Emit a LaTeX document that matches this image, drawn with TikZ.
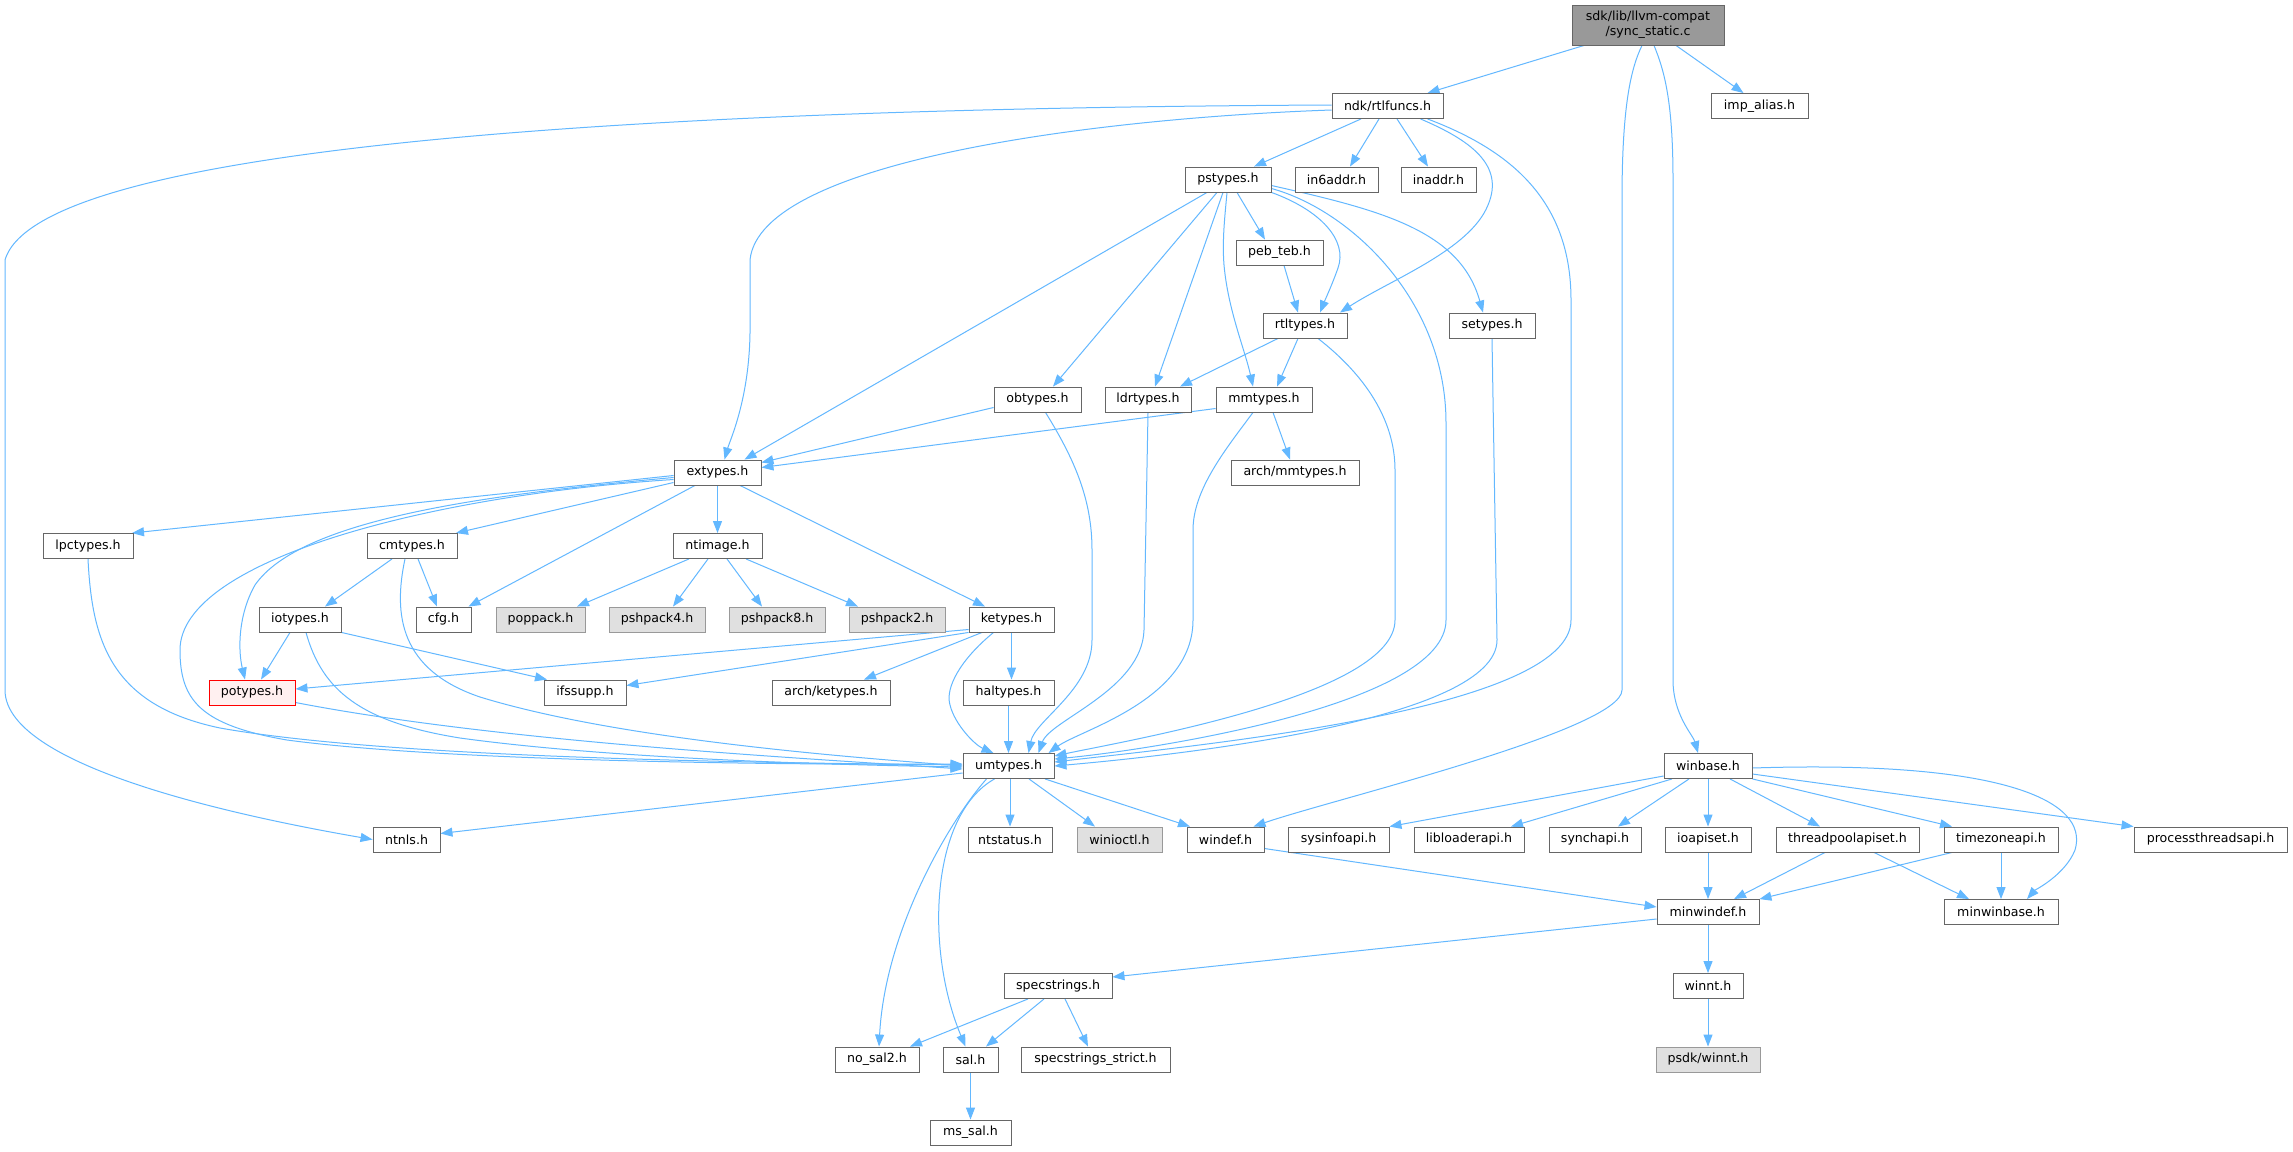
\documentclass[tikz,border=0pt]{standalone}
\usepackage{fontspec}
\setmainfont{DejaVu Sans}
\usetikzlibrary{arrows.meta}
\definecolor{edgec}{HTML}{63B8FF}
\definecolor{bord}{HTML}{666666}
\definecolor{gbord}{HTML}{999999}
\definecolor{gfill}{HTML}{E0E0E0}
\definecolor{rootfill}{HTML}{999999}
\definecolor{redfill}{HTML}{FFF0F0}
\pgfdeclarelayer{background}
\pgfsetlayers{background,main}
\begin{document}
\begin{tikzpicture}[x=1pt,y=-1pt,
 box/.style={draw=bord, fill=white, line width=0.9pt, minimum height=25pt, inner sep=0pt, font=\fontsize{12.6}{15}\selectfont},
 extbox/.style={box, fill=gfill, draw=gbord},
 e/.style={draw=edgec, line width=1pt, -{Triangle[length=12pt,width=9pt]}},
]
\useasboundingbox (0,0) rectangle (2293,1151);

% nodes
\node[box, fill=rootfill, minimum width=152pt, minimum height=40pt, align=center] (root) at (1648,25) {sdk/lib/llvm-compat\\/sync\_static.c};
\node[box, minimum width=111pt] (rtlfuncs) at (1387.5,106) {ndk/rtlfuncs.h};
\node[box, minimum width=97pt] (impalias) at (1759.5,106) {imp\_alias.h};
\node[box, minimum width=86pt] (pstypes) at (1228,179.5) {pstypes.h};
\node[box, minimum width=83pt] (in6addr) at (1336.5,179.5) {in6addr.h};
\node[box, minimum width=75pt] (inaddr) at (1438.5,179.5) {inaddr.h};
\node[box, minimum width=87pt] (pebteb) at (1279.5,252.5) {peb\_teb.h};
\node[box, minimum width=86pt] (setypes) at (1492,325.5) {setypes.h};
\node[box, minimum width=84pt] (rtltypes) at (1305,325.5) {rtltypes.h};
\node[box, minimum width=87pt] (obtypes) at (1037.5,399.5) {obtypes.h};
\node[box, minimum width=86pt] (ldrtypes) at (1148,399.5) {ldrtypes.h};
\node[box, minimum width=96pt] (mmtypes) at (1264,399.5) {mmtypes.h};
\node[box, minimum width=128pt] (archmm) at (1295,472.5) {arch/mmtypes.h};
\node[box, minimum width=87pt] (extypes) at (717.5,472.5) {extypes.h};
\node[box, minimum width=90pt] (lpctypes) at (88,546) {lpctypes.h};
\node[box, minimum width=90pt] (cmtypes) at (412,546) {cmtypes.h};
\node[box, minimum width=89pt] (ntimage) at (717.5,546) {ntimage.h};
\node[box, minimum width=55pt] (cfg) at (443.5,619.5) {cfg.h};
\node[extbox, minimum width=89pt] (poppack) at (540.5,619.5) {poppack.h};
\node[extbox, minimum width=96pt] (pshpack4) at (657,619.5) {pshpack4.h};
\node[extbox, minimum width=96pt] (pshpack8) at (777,619.5) {pshpack8.h};
\node[extbox, minimum width=96pt] (pshpack2) at (897,619.5) {pshpack2.h};
\node[box, minimum width=85pt] (ketypes) at (1011.5,619.5) {ketypes.h};
\node[box, minimum width=82pt] (iotypes) at (300,619.5) {iotypes.h};
\node[box, draw=red, fill=redfill, minimum width=86pt] (potypes) at (252,692.5) {potypes.h};
\node[box, minimum width=82pt] (ifssupp) at (585,692.5) {ifssupp.h};
\node[box, minimum width=118pt] (archke) at (831,692.5) {arch/ketypes.h};
\node[box, minimum width=91pt] (haltypes) at (1008.5,692.5) {haltypes.h};
\node[box, minimum width=91pt] (umtypes) at (1008.5,766) {umtypes.h};
\node[box, minimum width=67pt] (ntnls) at (406.5,839.5) {ntnls.h};
\node[box, minimum width=84pt] (ntstatus) at (1010,839.5) {ntstatus.h};
\node[extbox, minimum width=85pt] (winioctl) at (1119.5,839.5) {winioctl.h};
\node[box, minimum width=77pt] (windef) at (1225.5,839.5) {windef.h};
\node[box, minimum width=101pt] (sysinfoapi) at (1338.5,839.5) {sysinfoapi.h};
\node[box, minimum width=110pt] (libloaderapi) at (1469,839.5) {libloaderapi.h};
\node[box, minimum width=92pt] (synchapi) at (1595,839.5) {synchapi.h};
\node[box, minimum width=86pt] (ioapiset) at (1708,839.5) {ioapiset.h};
\node[box, minimum width=143pt] (threadpool) at (1847.5,839.5) {threadpoolapiset.h};
\node[box, minimum width=114pt] (timezone) at (2001,839.5) {timezoneapi.h};
\node[box, minimum width=153pt] (procthreads) at (2210.5,839.5) {processthreadsapi.h};
\node[box, minimum width=88pt] (winbase) at (1708,766) {winbase.h};
\node[box, minimum width=102pt] (minwindef) at (1708,912) {minwindef.h};
\node[box, minimum width=114pt] (minwinbase) at (2001,912) {minwinbase.h};
\node[box, minimum width=108pt] (specstrings) at (1058,986) {specstrings.h};
\node[box, minimum width=70pt] (winnt) at (1708,986) {winnt.h};
\node[extbox, minimum width=104pt] (psdkwinnt) at (1708,1059.5) {psdk/winnt.h};
\node[box, minimum width=84pt] (nosal2) at (877,1059.5) {no\_sal2.h};
\node[box, minimum width=55pt] (sal) at (970.5,1059.5) {sal.h};
\node[box, minimum width=149pt] (strict) at (1095.5,1059.5) {specstrings\_strict.h};
\node[box, minimum width=81pt] (mssal) at (970.5,1132.5) {ms\_sal.h};

\begin{pgfonlayer}{background}
\fill[white] (0,0) rectangle (2293,1151);
% root edges
\draw[e] ([xshift=-64pt]root.south) -- ([xshift=40pt]rtlfuncs.north);
\draw[e] ([xshift=28pt]root.south) -- ([xshift=-16pt]impalias.north);
\draw[e] ([xshift=-6pt]root.south) .. controls (1630,70) and (1622,110) .. (1622,200) -- (1622,690) .. controls (1622,730) and (1330,800) .. ([xshift=28pt]windef.north);
\draw[e] ([xshift=6pt]root.south) .. controls (1664,70) and (1673,100) .. (1673,180) -- (1673,680) .. controls (1673,715) and (1693,735) .. ([xshift=-10pt]winbase.north);

% rtlfuncs edges
\draw[e] ([xshift=-26.5pt]rtlfuncs.south) -- ([xshift=26pt]pstypes.north);
\draw[e] ([xshift=-8.5pt]rtlfuncs.south) -- ([xshift=13.5pt]in6addr.north);
\draw[e] ([xshift=9.5pt]rtlfuncs.south) -- ([xshift=-10.5pt]inaddr.north);
\draw[e] ([xshift=33pt]rtlfuncs.south) .. controls (1470,140) and (1505,165) .. (1488,205) .. controls (1470,250) and (1390,280) .. ([xshift=35pt]rtltypes.north);
\draw[e] ([xshift=40pt]rtlfuncs.south) .. controls (1510,150) and (1571,200) .. (1571,300) -- (1571,620) .. controls (1571,710) and (1200,745) .. ([yshift=4pt]umtypes.east);
\draw[e] ([yshift=-4pt]rtlfuncs.west) .. controls (1100,118) and (760,160) .. (750,260) -- (750,333) .. controls (749,400) and (730,440) .. ([xshift=7pt]extypes.north);
\draw[e] ([yshift=1pt]rtlfuncs.west) .. controls (700,108) and (40,140) .. (5,260) -- (5,690) .. controls (5,770) and (260,820) .. (ntnls.west);

% pstypes edges
\draw[e] ([xshift=-21pt]pstypes.south) -- ([xshift=27pt]extypes.north);
\draw[e] ([xshift=-11pt]pstypes.south) -- ([xshift=15.5pt]obtypes.north);
\draw[e] ([xshift=-5pt]pstypes.south) -- ([xshift=7pt]ldrtypes.north);
\draw[e] ([xshift=-1pt]pstypes.south) .. controls (1225,215) and (1222,240) .. (1224,265) .. controls (1228,310) and (1245,350) .. ([xshift=-11pt]mmtypes.north);
\draw[e] ([xshift=9pt]pstypes.south) -- ([xshift=-14.5pt]pebteb.north);
\draw[e] (pstypes.south east) .. controls (1320,210) and (1348,240) .. (1338,268) .. controls (1332,285) and (1325,300) .. ([xshift=15pt]rtltypes.north);
\draw[e] ([yshift=-9pt]pstypes.east) .. controls (1350,210) and (1446,300) .. (1446,423) -- (1446,620) .. controls (1446,705) and (1150,750) .. ([yshift=7pt]umtypes.east);
\draw[e] ([yshift=-6pt]pstypes.east) .. controls (1380,210) and (1460,230) .. ([xshift=-9pt]setypes.north);

\draw[e] ([xshift=4.5pt]pebteb.south) -- ([xshift=-7pt]rtltypes.north);
\draw[e] (setypes.south) -- (1497,640) .. controls (1497,720) and (1180,755) .. (umtypes.east);

% rtltypes
\draw[e] ([xshift=-27pt]rtltypes.south) -- ([xshift=32pt]ldrtypes.north);
\draw[e] ([xshift=-7pt]rtltypes.south) -- ([xshift=13pt]mmtypes.north);
\draw[e] ([xshift=13pt]rtltypes.south) .. controls (1365,375) and (1395,420) .. (1395,470) -- (1395,620) .. controls (1395,695) and (1130,740) .. ([yshift=10pt]umtypes.east);

% obtypes, ldrtypes, mmtypes
\draw[e] ([yshift=-8pt]obtypes.west) -- ([yshift=10pt]extypes.east);
\draw[e] ([xshift=8pt]obtypes.south) .. controls (1075,460) and (1092,500) .. (1092,550) -- (1092,640) .. controls (1092,690) and (1035,720) .. ([xshift=20pt]umtypes.north);
\draw[e] (ldrtypes.south) -- (1144,630) .. controls (1142,690) and (1050,720) .. ([xshift=30pt]umtypes.north);
\draw[e] ([yshift=-9pt]mmtypes.west) -- ([yshift=5pt]extypes.east);
\draw[e] ([xshift=9pt]mmtypes.south) -- ([xshift=-5pt]archmm.north);
\draw[e] ([xshift=-11pt]mmtypes.south) .. controls (1225,450) and (1193,490) .. (1193,530) -- (1193,620) .. controls (1193,700) and (1080,730) .. ([xshift=40pt]umtypes.north);

% extypes
\draw[e] ([yshift=-3pt]extypes.west) -- ([xshift=44pt]lpctypes.north);
\draw[e] ([yshift=-10pt]extypes.west) -- ([xshift=44pt]cmtypes.north);
\draw[e] ([xshift=-22.5pt]extypes.south) -- ([xshift=25pt]cfg.north);
\draw[e] (extypes.south) -- (ntimage.north);
\draw[e] ([xshift=22.5pt]extypes.south) -- ([xshift=-26.5pt]ketypes.north);
\draw[e] ([yshift=-5pt]extypes.west) .. controls (480,495) and (300,520) .. (255,585) .. controls (238,615) and (238,650) .. ([xshift=-7pt]potypes.north);
\draw[e] ([yshift=-7pt]extypes.west) .. controls (430,495) and (180,560) .. (180,650) .. controls (180,700) and (200,725) .. (287,740) .. controls (450,762) and (800,765) .. ([yshift=2pt]umtypes.west);

\draw[e] (lpctypes.south) .. controls (92,640) and (110,705) .. (220,728) .. controls (400,760) and (800,763) .. ([yshift=1pt]umtypes.west);

% cmtypes
\draw[e] ([xshift=-20pt]cmtypes.south) -- ([xshift=25pt]iotypes.north);
\draw[e] ([xshift=6pt]cmtypes.south) -- ([xshift=-6.5pt]cfg.north);
\draw[e] ([xshift=-7pt]cmtypes.south) .. controls (393,615) and (400,670) .. (480,697) .. controls (620,740) and (850,757) .. (umtypes.west);

% iotypes, potypes
\draw[e] ([xshift=-10pt]iotypes.south) -- ([xshift=9pt]potypes.north);
\draw[e] (iotypes.south east) -- ([xshift=-38pt]ifssupp.north);
\draw[e] ([xshift=6pt]iotypes.south) .. controls (322,690) and (360,722) .. (460,738) .. controls (620,760) and (850,765) .. ([yshift=-1pt]umtypes.west);
\draw[e] ([yshift=-10pt]potypes.east) .. controls (500,742) and (800,758) .. ([yshift=-3pt]umtypes.west);

% ketypes
\draw[e] ([yshift=-10pt]ketypes.west) -- ([yshift=3.5pt]potypes.east);
\draw[e] (ketypes.south west) -- ([yshift=7pt]ifssupp.east);
\draw[e] ([xshift=-29.5pt]ketypes.south) -- ([xshift=33pt]archke.north);
\draw[e] (ketypes.south) -- ([xshift=3pt]haltypes.north);
\draw[e] ([xshift=-18pt]ketypes.south) .. controls (960,660) and (945,688) .. (950,705) .. controls (955,725) and (975,745) .. ([xshift=-15pt]umtypes.north);
\draw[e] (haltypes.south) -- (umtypes.north);

% ntimage
\draw[e] ([xshift=-28.5pt]ntimage.south) -- ([xshift=36.5pt]poppack.north);
\draw[e] ([xshift=-9.5pt]ntimage.south) -- ([xshift=16pt]pshpack4.north);
\draw[e] ([xshift=9.5pt]ntimage.south) -- ([xshift=-15pt]pshpack8.north);
\draw[e] ([xshift=28.5pt]ntimage.south) -- ([xshift=-39pt]pshpack2.north);

% umtypes
\draw[e] ([yshift=-7pt]umtypes.west) -- ([yshift=6pt]ntnls.east);
\draw[e] ([xshift=1.5pt]umtypes.south) -- (ntstatus.north);
\draw[e] ([xshift=20.5pt]umtypes.south) -- ([xshift=-24.5pt]winioctl.north);
\draw[e] ([xshift=36.5pt]umtypes.south) -- ([xshift=-35.5pt]windef.north);
\draw[e] ([xshift=-22pt]umtypes.south) .. controls (950,820) and (885,930) .. ([xshift=2pt]nosal2.north);
\draw[e] ([xshift=-14pt]umtypes.south) .. controls (930,815) and (925,950) .. ([xshift=-5pt]sal.north);

% windef, winbase
\draw[e] ([yshift=-9pt]windef.east) -- ([yshift=5pt]minwindef.west);
\draw[e] ([yshift=-10pt]winbase.west) -- (sysinfoapi.north east);
\draw[e] ([xshift=-36pt]winbase.south) -- ([xshift=42pt]libloaderapi.north);
\draw[e] ([xshift=-19pt]winbase.south) -- ([xshift=23pt]synchapi.north);
\draw[e] (winbase.south) -- (ioapiset.north);
\draw[e] ([xshift=22pt]winbase.south) -- ([xshift=-27.5pt]threadpool.north);
\draw[e] (winbase.south east) -- ([xshift=-49pt]timezone.north);
\draw[e] ([yshift=-8pt]winbase.east) -- (procthreads.north west);
\draw[e] ([yshift=-2pt]winbase.east) .. controls (2000,760) and (2090,800) .. (2075,850) .. controls (2065,875) and (2035,890) .. ([xshift=26pt]minwinbase.north);

\draw[e] (ioapiset.south) -- (minwindef.north);
\draw[e] ([xshift=-22.5pt]threadpool.south) -- ([xshift=26pt]minwindef.north);
\draw[e] ([xshift=26.5pt]threadpool.south) -- ([xshift=-32pt]minwinbase.north);
\draw[e] ([xshift=-49pt]timezone.south) -- (minwindef.north east);
\draw[e] (timezone.south) -- (minwinbase.north);

% minwindef, specstrings
\draw[e] ([yshift=-7pt]minwindef.west) -- ([yshift=9pt]specstrings.east);
\draw[e] (minwindef.south) -- (winnt.north);
\draw[e] (winnt.south) -- (psdkwinnt.north);
\draw[e] ([xshift=-30pt]specstrings.south) -- ([xshift=33pt]nosal2.north);
\draw[e] ([xshift=-14pt]specstrings.south) -- ([xshift=15.5pt]sal.north);
\draw[e] ([xshift=7pt]specstrings.south) -- ([xshift=-7.5pt]strict.north);
\draw[e] (sal.south) -- (mssal.north);
\end{pgfonlayer}
\end{tikzpicture}
\end{document}
